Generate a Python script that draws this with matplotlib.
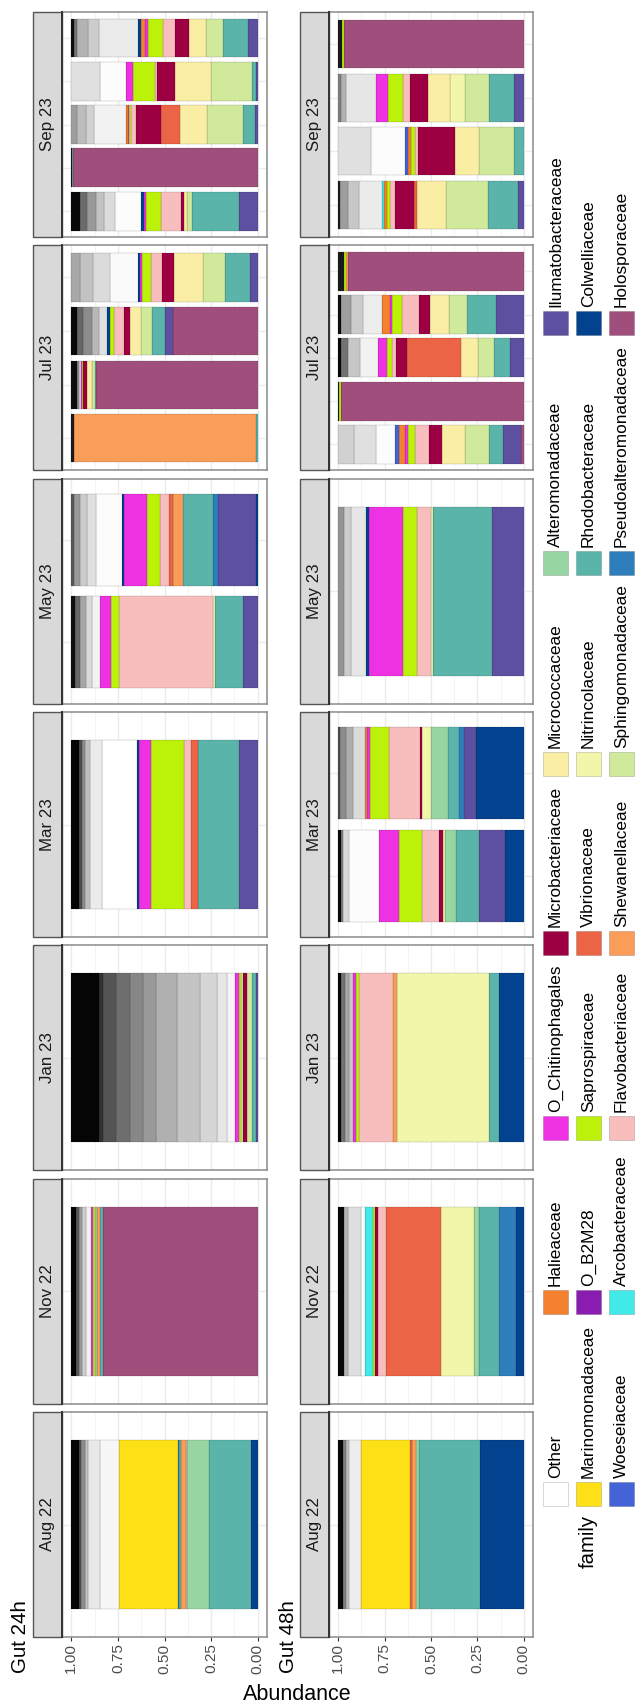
import matplotlib
matplotlib.use("Agg")
import matplotlib.pyplot as plt
from matplotlib.patches import Rectangle

plt.rcParams['font.family'] = ['Liberation Sans', 'DejaVu Sans']

W, H = 635, 1705

# ---------------- data ----------------
families = ["Other", "Marinomonadaceae", "Woeseiaceae",
            "Halieaceae", "O_B2M28", "Arcobacteraceae",
            "O_Chitinophagales", "Saprospiraceae", "Flavobacteriaceae",
            "Microbacteriaceae", "Vibrionaceae", "Shewanellaceae",
            "Micrococcaceae", "Nitrincolaceae", "Sphingomonadaceae",
            "Alteromonadaceae", "Rhodobacteraceae", "Pseudoalteromonadaceae",
            "Ilumatobacteraceae", "Colwelliaceae", "Holosporaceae"]
family_colors = ["#FFFFFF", "#FDE016", "#4363D7",
                 "#F3812F", "#8A1DB0", "#41EAE8",
                 "#EE32E3", "#BCF20A", "#F8BDBD",
                 "#9D0042", "#EC6446", "#F99D59",
                 "#FAEDA4", "#F1F6AB", "#D0E99B",
                 "#97D5A3", "#5AB4A9", "#2E7EBC",
                 "#5E50A1", "#03428F", "#A04F7C"]

months = ["Aug 22", "Nov 22", "Jan 23", "Mar 23", "May 23", "Jul 23", "Sep 23"]
row_titles = ["Gut 24h", "Gut 48h"]
tick_values = [0.0, 0.25, 0.5, 0.75, 1.0]
tick_labels = ["0.00", "0.25", "0.50", "0.75", "1.00"]

# each bar: (families stacked from 0 upward, "Other" taxa bands (abundance, grey level) up to 1)
# bars listed from first sample (bottom) to last (top)
g24_aug22 = [
    ([("Colwelliaceae", .038), ("Rhodobacteraceae", .222), ("Alteromonadaceae", .118),
      ("Flavobacteriaceae", .007), ("Shewanellaceae", .027), ("Rhodobacteraceae", .008),
      ("Pseudoalteromonadaceae", .006), ("Marinomonadaceae", .319)],
     [(.103, .97), (.062, .91), (.018, .75), (.018, .55), (.014, .3), (.04, .02)]),
]
g24_nov22 = [
    ([("Holosporaceae", .83), ("Rhodobacteraceae", .014), ("Shewanellaceae", .018),
      ("Alteromonadaceae", .013), ("Saprospiraceae", .009), ("O_Chitinophagales", .01)],
     [(.026, .95), (.021, .8), (.018, .6), (.014, .35), (.027, .02)]),
]
g24_jan23 = [
    ([("Ilumatobacteraceae", .011), ("Rhodobacteraceae", .02), ("Sphingomonadaceae", .029),
      ("Microbacteriaceae", .018), ("Sphingomonadaceae", .014), ("Saprospiraceae", .007),
      ("O_Chitinophagales", .023)],
     [(.045, .96), (.053, .9), (.09, .84), (.125, .77), (.108, .69), (.072, .6),
      (.071, .53), (.072, .43), (.072, .33), (.023, .2), (.147, .02)]),
]
g24_mar23 = [
    ([("Ilumatobacteraceae", .1), ("Rhodobacteraceae", .222), ("Vibrionaceae", .036),
      ("Flavobacteriaceae", .037), ("Saprospiraceae", .177), ("O_Chitinophagales", .065),
      ("Colwelliaceae", .011)],
     [(.19, .995), (.062, .92), (.026, .75), (.018, .55), (.014, .3), (.042, .02)]),
]
g24_may23 = [
    ([("Ilumatobacteraceae", .08), ("Rhodobacteraceae", .149), ("Nitrincolaceae", .011),
      ("Flavobacteriaceae", .504), ("Saprospiraceae", .045), ("O_Chitinophagales", .055)],
     [(.045, .95), (.03, .85), (.035, .65), (.028, .4), (.018, .05)]),
    ([("Colwelliaceae", .011), ("Ilumatobacteraceae", .204), ("Pseudoalteromonadaceae", .025),
      ("Rhodobacteraceae", .163), ("Shewanellaceae", .052), ("Vibrionaceae", .023),
      ("Flavobacteriaceae", .048), ("Saprospiraceae", .066), ("O_Chitinophagales", .125),
      ("Colwelliaceae", .013)],
     [(.135, .99), (.05, .88), (.04, .8), (.03, .6), (.015, .35)]),
]
g24_jul23 = [
    ([("Rhodobacteraceae", .007), ("Shewanellaceae", .981)],
     [(.012, .1)]),
    ([("Holosporaceae", .869), ("Rhodobacteraceae", .006), ("Sphingomonadaceae", .012),
      ("Micrococcaceae", .027), ("Microbacteriaceae", .021), ("Saprospiraceae", .008),
      ("O_Chitinophagales", .006)],
     [(.01, .85), (.01, .55), (.031, .05)]),
    ([("Holosporaceae", .455), ("Ilumatobacteraceae", .042), ("Rhodobacteraceae", .068),
      ("Sphingomonadaceae", .06), ("Micrococcaceae", .06), ("Microbacteriaceae", .033),
      ("Flavobacteriaceae", .055), ("Saprospiraceae", .02), ("Colwelliaceae", .018)],
     [(.04, .88), (.04, .72), (.045, .55), (.035, .4), (.029, .03)]),
    ([("Ilumatobacteraceae", .04), ("Rhodobacteraceae", .134), ("Sphingomonadaceae", .12),
      ("Micrococcaceae", .155), ("Microbacteriaceae", .065), ("Flavobacteriaceae", .057),
      ("Saprospiraceae", .052), ("O_Chitinophagales", .009), ("Colwelliaceae", .011)],
     [(.15, .98), (.09, .86), (.07, .76), (.047, .66)]),
]
g24_sep23 = [
    ([("Ilumatobacteraceae", .102), ("Rhodobacteraceae", .253), ("Sphingomonadaceae", .023),
      ("Micrococcaceae", .016), ("Microbacteriaceae", .016), ("Flavobacteriaceae", .11),
      ("Saprospiraceae", .077), ("O_Chitinophagales", .015), ("Colwelliaceae", .015)],
     [(.14, .99), (.06, .86), (.04, .76), (.05, .6), (.038, .42), (.045, .03)]),
    ([("Holosporaceae", .99), ("Rhodobacteraceae", .004)],
     [(.006, .1)]),
    ([("Ilumatobacteraceae", .014), ("Rhodobacteraceae", .066), ("Sphingomonadaceae", .19),
      ("Micrococcaceae", .146), ("Vibrionaceae", .102), ("Microbacteriaceae", .134),
      ("Flavobacteriaceae", .026), ("Saprospiraceae", .012), ("O_Chitinophagales", .008),
      ("Halieaceae", .008)],
     [(.17, .95), (.044, .82), (.05, .74), (.03, .62)]),
    ([("Ilumatobacteraceae", .01), ("Rhodobacteraceae", .022), ("Sphingomonadaceae", .221),
      ("Micrococcaceae", .193), ("Microbacteriaceae", .094), ("Flavobacteriaceae", .012),
      ("Saprospiraceae", .116), ("O_Chitinophagales", .04)],
     [(.14, .99), (.152, .88)]),
    ([("Ilumatobacteraceae", .05), ("Rhodobacteraceae", .135), ("Sphingomonadaceae", .095),
      ("Micrococcaceae", .088), ("Microbacteriaceae", .076), ("Flavobacteriaceae", .063),
      ("Saprospiraceae", .081), ("O_Chitinophagales", .018), ("Halieaceae", .02),
      ("Colwelliaceae", .014)],
     [(.21, .92), (.06, .8), (.06, .7), (.017, .45), (.013, .05)]),
]

g48_aug22 = [
    ([("Colwelliaceae", .238), ("Rhodobacteraceae", .327), ("Alteromonadaceae", .015),
      ("Shewanellaceae", .02), ("Vibrionaceae", .013), ("Marinomonadaceae", .265)],
     [(.063, .93), (.02, .75), (.016, .5), (.023, .03)]),
]
g48_nov22 = [
    ([("Colwelliaceae", .04), ("Pseudoalteromonadaceae", .094), ("Rhodobacteraceae", .108),
      ("Alteromonadaceae", .027), ("Nitrincolaceae", .179), ("Vibrionaceae", .295),
      ("Flavobacteriaceae", .042), ("Microbacteriaceae", .015), ("Saprospiraceae", .015),
      ("Arcobacteraceae", .039)],
     [(.024, .99), (.07, .87), (.02, .7), (.032, .03)]),
]
g48_jan23 = [
    ([("Colwelliaceae", .134), ("Rhodobacteraceae", .054), ("Nitrincolaceae", .497),
      ("Shewanellaceae", .022), ("Flavobacteriaceae", .183), ("Saprospiraceae", .012),
      ("O_Chitinophagales", .017)],
     [(.025, .78), (.02, .66), (.021, .45), (.015, .03)]),
]
g48_mar23 = [
    ([("Colwelliaceae", .099), ("Ilumatobacteraceae", .143), ("Rhodobacteraceae", .122),
      ("Alteromonadaceae", .061), ("Micrococcaceae", .012), ("Microbacteriaceae", .02),
      ("Flavobacteriaceae", .093), ("Saprospiraceae", .122), ("O_Chitinophagales", .111)],
     [(.157, .99), (.035, .85), (.012, .5), (.013, .03)]),
    ([("Colwelliaceae", .26), ("Ilumatobacteraceae", .063), ("Pseudoalteromonadaceae", .027),
      ("Rhodobacteraceae", .057), ("Alteromonadaceae", .093), ("Nitrincolaceae", .047),
      ("Microbacteriaceae", .013), ("Flavobacteriaceae", .165), ("Saprospiraceae", .105),
      ("O_Chitinophagales", .014), ("Halieaceae", .013)],
     [(.063, .86), (.036, .68), (.032, .55), (.012, .3)]),
]
g48_may23 = [
    ([("Ilumatobacteraceae", .17), ("Rhodobacteraceae", .317), ("Nitrincolaceae", .015),
      ("Flavobacteriaceae", .073), ("Saprospiraceae", .077), ("O_Chitinophagales", .181),
      ("Colwelliaceae", .016)],
     [(.085, .9), (.033, .8), (.033, .58)]),
]
g48_jul23 = [
    ([("Holosporaceae", .014), ("Ilumatobacteraceae", .099), ("Rhodobacteraceae", .072),
      ("Sphingomonadaceae", .129), ("Micrococcaceae", .129), ("Microbacteriaceae", .067),
      ("Flavobacteriaceae", .077), ("Saprospiraceae", .037), ("O_Chitinophagales", .014),
      ("Halieaceae", .034), ("Woeseiaceae", .023)],
     [(.1, .99), (.12, .88), (.085, .82)]),
    ([("Holosporaceae", .986), ("Saprospiraceae", .008)],
     [(.006, .1)]),
    ([("Ilumatobacteraceae", .075), ("Rhodobacteraceae", .085), ("Sphingomonadaceae", .084),
      ("Micrococcaceae", .095), ("Vibrionaceae", .292), ("Microbacteriaceae", .06),
      ("Flavobacteriaceae", .018), ("Saprospiraceae", .03), ("O_Chitinophagales", .046)],
     [(.1, .95), (.063, .78), (.037, .45), (.015, .03)]),
    ([("Ilumatobacteraceae", .152), ("Rhodobacteraceae", .156), ("Sphingomonadaceae", .095),
      ("Micrococcaceae", .105), ("Microbacteriaceae", .057), ("Flavobacteriaceae", .093),
      ("Saprospiraceae", .05), ("O_Chitinophagales", .012), ("Halieaceae", .042)],
     [(.107, .93), (.06, .8), (.057, .62), (.014, .05)]),
    ([("Holosporaceae", .95), ("Shewanellaceae", .01), ("Saprospiraceae", .008)],
     [(.032, .1)]),
]
g48_sep23 = [
    ([("Ilumatobacteraceae", .032), ("Rhodobacteraceae", .16), ("Sphingomonadaceae", .228),
      ("Micrococcaceae", .155), ("Vibrionaceae", .014), ("Microbacteriaceae", .106),
      ("Flavobacteriaceae", .025), ("Saprospiraceae", .018), ("Halieaceae", .015),
      ("Arcobacteraceae", .009)],
     [(.125, .92), (.06, .78), (.044, .62), (.009, .1)]),
    ([("Rhodobacteraceae", .054), ("Sphingomonadaceae", .188), ("Micrococcaceae", .129),
      ("Microbacteriaceae", .197), ("Flavobacteriaceae", .02), ("Saprospiraceae", .02),
      ("Halieaceae", .014), ("Woeseiaceae", .018)],
     [(.183, .99), (.177, .88)]),
    ([("Ilumatobacteraceae", .054), ("Rhodobacteraceae", .134), ("Sphingomonadaceae", .126),
      ("Nitrincolaceae", .081), ("Micrococcaceae", .121), ("Microbacteriaceae", .097),
      ("Flavobacteriaceae", .038), ("Saprospiraceae", .081), ("O_Chitinophagales", .062)],
     [(.165, .9), (.025, .7), (.016, .5)]),
    ([("Holosporaceae", .968), ("Saprospiraceae", .012)],
     [(.02, .1)]),
]

gut24 = [g24_aug22, g24_nov22, g24_jan23, g24_mar23, g24_may23, g24_jul23, g24_sep23]
gut48 = [g48_aug22, g48_nov22, g48_jan23, g48_mar23, g48_may23, g48_jul23, g48_sep23]

# ---------------- drawing ----------------
color_of = dict(zip(families, family_colors))
EDGE = (0, 0, 0, 0.25)

fig = plt.figure(figsize=(W / 100, H / 100), dpi=100)
fig.patch.set_facecolor("white")


def fx(x):
    return x / W


def fy(y):
    return 1 - y / H


# x geometry of the two rows: strip left, panel left, panel right, title x
row_geom = [(33, 62, 267, 21), (300, 329, 533, 288)]
PANEL_H = 225
STEP = 233.33
BOTTOM_TOP = 1412

for r, rowdata in enumerate([gut24, gut48]):
    sx0, px0, px1, tx = row_geom[r]
    for i, month in enumerate(months):
        top = BOTTOM_TOP - i * STEP
        bot = top + PANEL_H
        ax = fig.add_axes([fx(px0), fy(bot), (px1 - px0) / W, PANEL_H / H])
        bars = rowdata[i]
        n = len(bars)
        for j, (fams, others) in enumerate(bars):
            cum = 0.0
            for fam, val in fams:
                ax.barh(j + 1, val, left=cum, height=0.9, color=color_of[fam],
                        edgecolor=EDGE, linewidth=0.35, zorder=3)
                cum += val
            for val, g in others:
                ax.barh(j + 1, val, left=cum, height=0.9, color=(g, g, g),
                        edgecolor=EDGE, linewidth=0.35, zorder=3)
                cum += val
        ax.set_xlim(1.05, -0.05)
        ax.set_ylim(0.4, n + 0.6)
        ax.set_xticks(tick_values)
        ax.set_xticks([0.125, 0.375, 0.625, 0.875], minor=True)
        ax.set_yticks(range(1, n + 1))
        ax.set_axisbelow(True)
        ax.grid(which="major", color="#EBEBEB", linewidth=1.0, zorder=0)
        ax.grid(which="minor", axis="x", color="#F3F3F3", linewidth=0.6, zorder=0)
        ax.tick_params(axis="y", left=False, labelleft=False)
        ax.tick_params(axis="x", which="minor", bottom=False)
        if i == 0:
            ax.set_xticklabels(tick_labels, rotation=90, fontsize=11.1, color="#4D4D4D")
            ax.tick_params(axis="x", which="major", length=2.6, width=0.8,
                           color="#333333", pad=2)
        else:
            ax.tick_params(axis="x", bottom=False, labelbottom=False)
        for s in ax.spines.values():
            s.set_color("#8A8A8A")
            s.set_linewidth(1.1)
        # facet strip
        fig.patches.append(Rectangle((fx(sx0), fy(bot)), (px0 - sx0) / W, PANEL_H / H,
                                     transform=fig.transFigure, facecolor="#D9D9D9",
                                     edgecolor="#555555", linewidth=1.0, zorder=5))
        fig.add_artist(plt.Line2D([fx(px0), fx(px0)], [fy(bot), fy(top)],
                                  transform=fig.transFigure, color="#333333",
                                  linewidth=1.4, zorder=6))
        fig.text(fx((sx0 + px0) / 2), fy(top + PANEL_H / 2), month, rotation=90,
                 ha="center", va="center", fontsize=12.2, color="#1A1A1A", zorder=7)
    fig.text(fx(tx), fy(1673), row_titles[r], rotation=90, ha="center", va="bottom",
             fontsize=14.8, color="black")

fig.text(fx(297), fy(1695), "Abundance", ha="center", va="center",
         fontsize=15.5, color="black")

# ---------------- legend ----------------
leg_col_x = [543, 576, 609]
leg_row_top = [1482, 1290, 1116, 931, 752, 551, 311]
KEY_W, KEY_H = 25, 24
for k, (name, col) in enumerate(zip(families, family_colors)):
    c, rr = k % 3, k // 3
    x0 = leg_col_x[c]
    y0 = leg_row_top[rr]
    fig.patches.append(Rectangle((fx(x0), fy(y0 + KEY_H)), KEY_W / W, KEY_H / H,
                                 transform=fig.transFigure, facecolor=col,
                                 edgecolor=(0, 0, 0, 0.18), linewidth=0.6))
    fig.text(fx(x0 + KEY_W / 2), fy(y0 - 4), name, rotation=90, ha="center",
             va="bottom", fontsize=12.4, color="black")
fig.text(fx(leg_col_x[1] + KEY_W / 2), fy(1515), "family", rotation=90, ha="center",
         va="top", fontsize=14.6, color="black")

fig.savefig("out.png", dpi=100, facecolor="white")
